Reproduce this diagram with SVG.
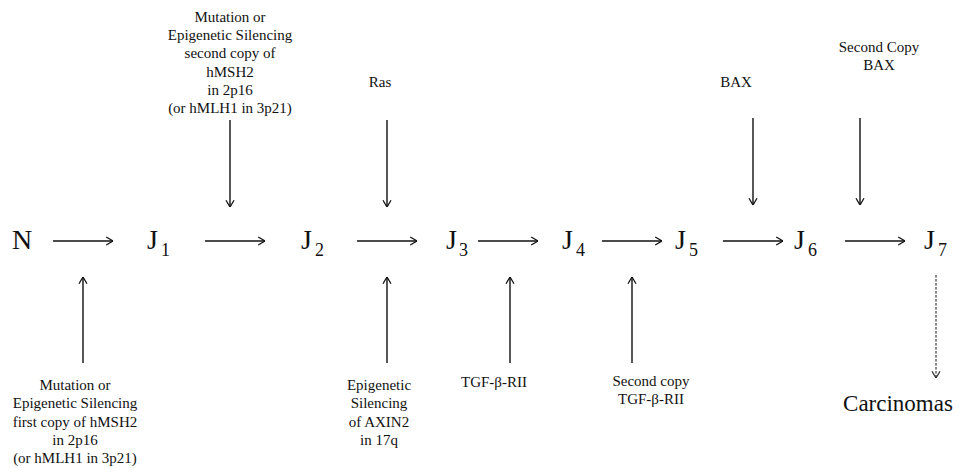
<svg xmlns="http://www.w3.org/2000/svg" width="959" height="468" viewBox="0 0 959 468">
<defs>
<marker id="ah" markerUnits="userSpaceOnUse" viewBox="0 0 10 12" refX="9.5" refY="6" markerWidth="8" markerHeight="11" orient="auto">
<path d="M1,1 L9.5,6 L1,11" fill="none" stroke="#111" stroke-width="1.6"/>
</marker>
<marker id="ahg" markerUnits="userSpaceOnUse" viewBox="0 0 10 12" refX="9.5" refY="6" markerWidth="8" markerHeight="11" orient="auto">
<path d="M1,1 L9.5,6 L1,11" fill="none" stroke="#333" stroke-width="1.6"/>
</marker>
</defs>
<style>
text{font-family:"Liberation Serif","Times New Roman",serif;fill:#111}
.big{font-size:28px}
.sub{font-size:18px}
.lbl{font-size:15px;text-anchor:middle}
.car{font-size:23px;text-anchor:middle}
.c{stroke:#111;stroke-width:1.4;fill:none;marker-end:url(#ah)}
.d{stroke:#555;stroke-width:1.4;fill:none;stroke-dasharray:2.5 1.5;marker-end:url(#ahg)}
</style>
<rect width="959" height="468" fill="#fff"/>
<g id="N"><text class="big" x="12" y="249">N</text></g>
<g id="J1"><text class="big" x="147" y="249">J</text><text class="sub" x="161" y="256">1</text></g>
<g id="J2"><text class="big" x="301" y="249">J</text><text class="sub" x="315" y="256">2</text></g>
<g id="J3"><text class="big" x="446" y="249">J</text><text class="sub" x="459" y="256">3</text></g>
<g id="J4"><text class="big" x="562" y="249">J</text><text class="sub" x="576" y="256">4</text></g>
<g id="J5"><text class="big" x="675" y="249">J</text><text class="sub" x="689" y="256">5</text></g>
<g id="J6"><text class="big" x="794" y="249">J</text><text class="sub" x="808" y="256">6</text></g>
<g id="J7"><text class="big" x="924" y="249">J</text><text class="sub" x="938" y="256">7</text></g>
<g id="carcinomas"><text class="car" x="898" y="411">Carcinomas</text></g>
<g id="label-hmsh2-second">
<text class="lbl" x="230" y="22">Mutation or</text>
<text class="lbl" x="230" y="40">Epigenetic Silencing</text>
<text class="lbl" x="230" y="58">second copy of</text>
<text class="lbl" x="230" y="77">hMSH2</text>
<text class="lbl" x="230" y="95">in 2p16</text>
<text class="lbl" x="230" y="113">(or hMLH1 in 3p21)</text>
</g>
<g id="label-ras"><text class="lbl" x="380" y="87">Ras</text></g>
<g id="label-bax"><text class="lbl" x="736" y="87">BAX</text></g>
<g id="label-bax-second">
<text class="lbl" x="879" y="52">Second Copy</text>
<text class="lbl" x="879" y="70">BAX</text>
</g>
<g id="label-hmsh2-first">
<text class="lbl" x="75" y="390">Mutation or</text>
<text class="lbl" x="75" y="408">Epigenetic Silencing</text>
<text class="lbl" x="75" y="427">first copy of hMSH2</text>
<text class="lbl" x="75" y="445">in 2p16</text>
<text class="lbl" x="75" y="463">(or hMLH1 in 3p21)</text>
</g>
<g id="label-axin2">
<text class="lbl" x="379" y="390">Epigenetic</text>
<text class="lbl" x="379" y="408">Silencing</text>
<text class="lbl" x="379" y="427">of AXIN2</text>
<text class="lbl" x="379" y="445">in 17q</text>
</g>
<g id="label-tgf"><text class="lbl" x="494" y="387">TGF-β-RII</text></g>
<g id="label-tgf-second">
<text class="lbl" x="651" y="386">Second copy</text>
<text class="lbl" x="651" y="404">TGF-β-RII</text>
</g>
<g id="connectors">
<line class="c" x1="53" y1="241" x2="113" y2="241"/>
<line class="c" x1="205" y1="241" x2="265" y2="241"/>
<line class="c" x1="357" y1="241" x2="417" y2="241"/>
<line class="c" x1="478" y1="241" x2="538" y2="241"/>
<line class="c" x1="602" y1="241" x2="662" y2="241"/>
<line class="c" x1="723" y1="241" x2="783" y2="241"/>
<line class="c" x1="845" y1="241" x2="905" y2="241"/>
<line class="c" x1="230" y1="120" x2="230" y2="207"/>
<line class="c" x1="387" y1="120" x2="387" y2="207"/>
<line class="c" x1="753" y1="118" x2="753" y2="205"/>
<line class="c" x1="860" y1="118" x2="860" y2="205"/>
<line class="c" x1="83" y1="363" x2="83" y2="277"/>
<line class="c" x1="387" y1="363" x2="387" y2="277"/>
<line class="c" x1="510" y1="363" x2="510" y2="277"/>
<line class="c" x1="632" y1="363" x2="632" y2="277"/>
<line class="d" x1="936" y1="275" x2="936" y2="378"/>
</g>
</svg>
